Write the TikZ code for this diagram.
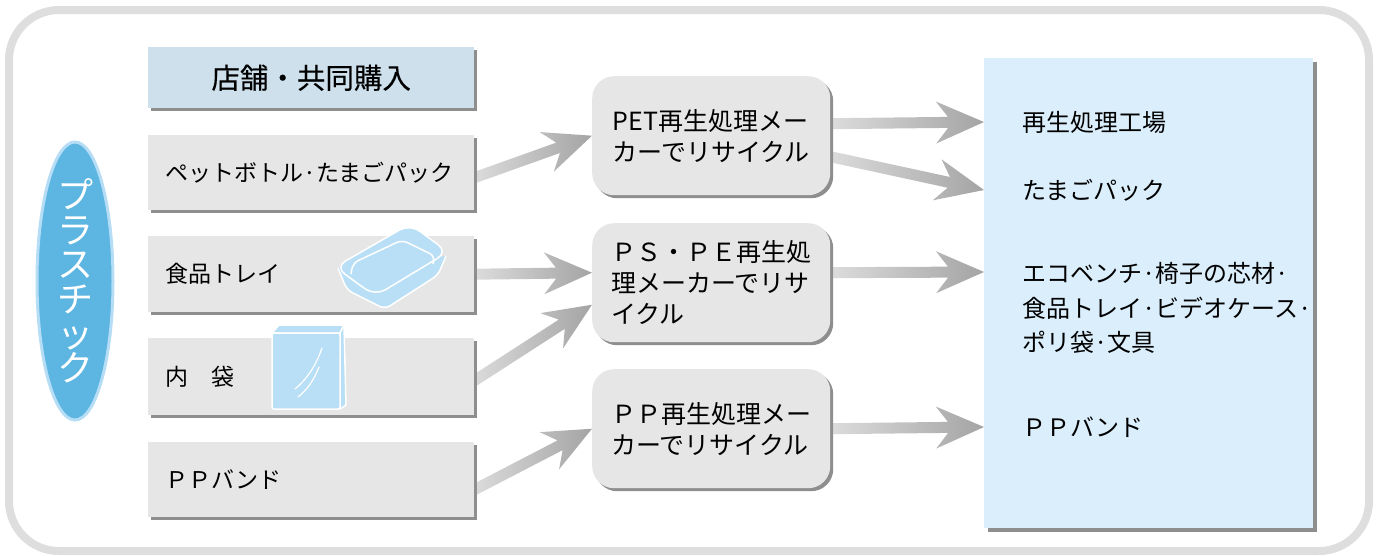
\documentclass[tikz,border=0pt]{standalone}
\usepackage{fontspec}
\setmainfont{Noto Sans CJK JP}
\newfontfamily\headfont{Noto Sans CJK JP}[FakeBold=0.3]
\usetikzlibrary{calc,shadows,shapes.geometric}

\definecolor{framegray}{HTML}{DEDEDE}
\definecolor{headfill}{HTML}{CDE0EC}
\definecolor{boxfill}{HTML}{E6E6E6}
\definecolor{outfill}{HTML}{DBEEFB}
\definecolor{shadowgray}{HTML}{8E8E8E}
\definecolor{ovalfill}{HTML}{5DB5E1}
\definecolor{ovalrim}{HTML}{B5DDF5}
\definecolor{iconfill}{HTML}{B8DFF6}
\definecolor{arrowlight}{HTML}{DCDCDC}
\definecolor{arrowdark}{HTML}{A4A4A4}

\pgfdeclarelayer{background}
\pgfsetlayers{background,main}

\tikzset{
  flat shadow/.style={drop shadow={shadow xshift=#1, shadow yshift=-#1, fill=shadowgray, opacity=1}},
  flat shadow/.default=3pt,
  srcbox/.style={rectangle, fill=boxfill, flat shadow, anchor=north west,
    minimum width=326pt, text width=292pt, inner xsep=17pt, inner ysep=0pt,
    align=left, font=\fontsize{23}{30}\selectfont},
  headbox/.style={srcbox, fill=headfill, align=center,
    font=\headfont\fontsize{28.5}{32}\selectfont},
  makerbox/.style={rectangle, rounded corners=22pt, fill=boxfill, flat shadow,
    anchor=north west, minimum width=238pt, minimum height=119pt, inner sep=0pt,
    align=left, font=\fontsize{25}{31}\selectfont},
  outbox/.style={rectangle, fill=outfill, flat shadow=4pt, anchor=north west,
    minimum width=329pt, minimum height=470pt, inner sep=0pt},
  outtext/.style={anchor=west, inner sep=0pt, align=left,
    font=\fontsize{24}{34.5}\selectfont},
  arrowshade/.style={left color=arrowlight, right color=arrowdark},
  icon/.style={fill=iconfill, draw=white, line width=1.5pt, line join=round},
}

% broad shaded arrow from #1 (tail) to #2 (tip)
\newcommand\fatarrow[2]{%
  \coordinate (faS) at #1;
  \coordinate (faT) at #2;
  \coordinate (faN) at ($(faT)!36pt!(faS)$);
  \coordinate (faB) at ($(faT)!48pt!(faS)$);
  \shade[arrowshade]
    ($(faS)!5.5pt!90:(faT)$) -- ($(faN)!5.5pt!90:(faT)$) --
    ($(faB)!21pt!90:(faT)$) -- (faT) -- ($(faB)!21pt!-90:(faT)$) --
    ($(faN)!5.5pt!-90:(faT)$) -- ($(faS)!5.5pt!-90:(faT)$) -- cycle;
}

\begin{document}
\begin{tikzpicture}[x=1pt, y=1pt]
\useasboundingbox (0,0) rectangle (1380,-555);

% outer frame
\draw[framegray, line width=8pt, rounded corners=50pt] (9,-10) rectangle (1369,-551);

% source boxes
\node[headbox, minimum height=61pt] (b0) at (148,-47) {店舗・共同購入};
\node[srcbox, minimum height=75pt] (b1) at (148,-135) {ペットボトル·たまごパック};
\node[srcbox, minimum height=76pt] (b2) at (148,-236) {食品トレイ};
\node[srcbox, minimum height=77pt] (b3) at (148,-338) {内　袋};
\node[srcbox, minimum height=75pt] (b4) at (148,-442) {ＰＰバンド};

% recycling makers
\node[makerbox] (m1) at (592,-76) {PET再生処理メー\\カーでリサイクル};
\node[makerbox] (m2) at (592,-223) {ＰＳ・ＰＥ再生処\\理メーカーでリサ\\イクル};
\node[makerbox] (m3) at (592,-369) {ＰＰ再生処理メー\\カーでリサイクル};

% products
\node[outbox] (out) at (984,-58) {};
\node[outtext] (t1) at (1022,-122) {再生処理工場};
\node[outtext] (t2) at (1022,-190) {たまごパック};
\node[outtext] (t3) at (1022,-308) {エコベンチ·椅子の芯材·\\食品トレイ·ビデオケース·\\ポリ袋·文具};
\node[outtext] (t4) at (1022,-427) {ＰＰバンド};

\begin{pgfonlayer}{background}
  % arrows into the makers
  \fatarrow{($(b1.east)+(0,-5)$)}{(m1.west)}
  \fatarrow{(b2.east)}{($(m2.west)+(0,10)$)}
  \fatarrow{($(b3.east)+(0,-4)$)}{($(m2.west)+(0,-22)$)}
  \fatarrow{($(b4.east)+(0,-10)$)}{(m3.west)}
  % arrows into the products
  \fatarrow{($(m1.east)+(0,12)$)}{(out.west |- t1.west)}
  \fatarrow{($(m1.east)+(0,-21)$)}{(out.west |- t2.west)}
  \fatarrow{($(m2.east)+(0,10)$)}{($(out.west |- t3.west)+(0,36)$)}
  \fatarrow{(m3.east)}{(out.west |- t4.west)}
\end{pgfonlayer}

% food tray
\draw[icon, rounded corners=6pt] (338,-268) -- (347,-290) -- (385,-309) -- (438,-275) -- (446,-256);
\draw[icon, rounded corners=12pt] (335,-267) -- (410,-224) -- (448,-252) -- (375,-296) -- cycle;
\draw[white, line width=1.5pt, rounded corners=6pt] (351,-274) -- (353,-263) -- (402,-240) -- (435,-256) -- (433,-264);

% plastic bag
\draw[icon] (272,-333) -- (279,-325) -- (344,-325) -- (340,-333) -- cycle;
\draw[icon] (340,-333) -- (344,-325) -- (346,-405) -- (340,-409) -- cycle;
\draw[icon, rounded corners=2pt] (272,-333) rectangle (340,-409);
\draw[white, line width=1.2pt, line cap=round] (322,-348) .. controls (316,-366) and (306,-380) .. (295,-389);
\draw[white, line width=1.2pt, line cap=round] (319,-367) .. controls (314,-380) and (307,-390) .. (298,-397);

% category oval
\node[ellipse, fill=ovalfill, draw=ovalrim, line width=3pt, minimum width=76pt, minimum height=278pt, inner sep=0pt] (plastic) at (75,-281) {};
\node[text=white, align=center, inner sep=0pt, font=\fontsize{36}{34.6}\selectfont] (plasticlabel) at (plastic.center) {プ\\ラ\\ス\\チ\\ッ\\ク};
\end{tikzpicture}
\end{document}
